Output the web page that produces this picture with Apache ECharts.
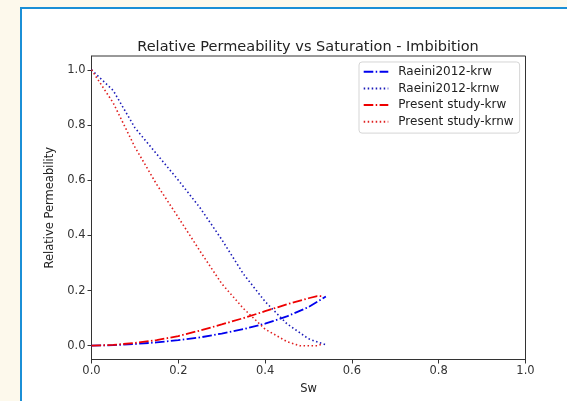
<!DOCTYPE html>
<html>
<head>
<meta charset="utf-8">
<script src="https://cdn.jsdelivr.net/npm/echarts@6/dist/echarts.min.js"></script>
<style>
html,body{margin:0;padding:0;background:#fdf9ec;}
#panel{position:absolute;left:20px;top:7px;width:547px;height:394px;background:#fff;border-left:2px solid #1b8fd6;border-top:2px solid #1b8fd6;box-sizing:border-box;}
#chart{position:absolute;left:0;top:0;width:567px;height:401px;}
</style>
</head>
<body>
<div id="panel"></div>
<div id="chart"></div>
<script>
// Data: [Sw, kr]
const raeiniKrw = [[0,0],[0.05,0.002],[0.1,0.006],[0.15,0.012],[0.2,0.02],[0.25,0.03],[0.3,0.044],[0.35,0.06],[0.4,0.08],[0.45,0.106],[0.5,0.14],[0.54,0.178]];
const raeiniKrnw = [[0,1.0],[0.05,0.925],[0.1,0.79],[0.15,0.695],[0.2,0.6],[0.25,0.5],[0.3,0.385],[0.35,0.26],[0.4,0.16],[0.45,0.08],[0.5,0.025],[0.54,0.003]];
const presentKrw = [[0,0],[0.05,0.003],[0.1,0.01],[0.15,0.02],[0.2,0.035],[0.25,0.055],[0.3,0.077],[0.35,0.1],[0.4,0.125],[0.45,0.15],[0.5,0.172],[0.52,0.18],[0.535,0.179]];
const presentKrnw = [[0,1.0],[0.05,0.88],[0.1,0.72],[0.15,0.585],[0.2,0.465],[0.25,0.343],[0.3,0.225],[0.35,0.135],[0.4,0.06],[0.45,0.015],[0.48,0.0],[0.52,0.0],[0.53,0.005]];
const seriesNames = ['Raeini2012-krw','Raeini2012-krnw','Present study-krw','Present study-krnw'];
const xTicks = [0,0.2,0.4,0.6,0.8,1.0];
const yTicks = [0,0.2,0.4,0.6,0.8,1.0];

const dashDot = [9.6,2.4,1.5,2.4];
const dotted = [1.5,2.5];
const font = 'DejaVu Sans';
function mk(name, data, color, pattern, w){
  return {name:name, type:'line', data:data, showSymbol:false, symbol:'none', smooth:false,
    lineStyle:{color:color, width:w, type:pattern, cap:'butt'}, itemStyle:{color:color}, animation:false};
}
const chart = echarts.init(document.getElementById('chart'), null, {renderer:'canvas'});
chart.setOption({
  backgroundColor:'transparent',
  animation:false,
  title:{text:'Relative Permeability vs Saturation - Imbibition', left:303, top:35, textAlign:'center',
    textStyle:{fontFamily:font, fontSize:14.5, fontWeight:'normal', color:'#222'}},
  grid:{left:91.5, right:41.5, top:56, bottom:41.5, show:true, borderColor:'#333', borderWidth:1},
  legend:{orient:'vertical', left:359, top:62, padding:[2.7,6,4.3,3.7], itemGap:2.7, itemWidth:24.6, itemHeight:14,
    backgroundColor:'#fff', borderColor:'#d5d5d5', borderWidth:1, borderRadius:3,
    itemStyle:{opacity:0, color:'transparent', borderWidth:0},
    textStyle:{fontFamily:font, fontSize:12, lineHeight:14, color:'#222', padding:[0,0,0,5]},
    data:seriesNames},
  xAxis:{type:'value', min:0, max:1, interval:0.2, name:'Sw', nameLocation:'middle', nameGap:24,
    nameTextStyle:{fontFamily:font, fontSize:11.5, color:'#222'},
    axisLine:{show:true, onZero:false, lineStyle:{color:'#333', width:1}},
    axisTick:{show:true, length:4, lineStyle:{color:'#333'}},
    axisLabel:{fontFamily:font, fontSize:11.5, color:'#333', margin:6, formatter:v=>v.toFixed(1), customValues:xTicks},
    splitLine:{show:false}},
  yAxis:{type:'value', min:-0.05, max:1.05, name:'Relative Permeability', nameLocation:'middle', nameGap:33,
    nameTextStyle:{fontFamily:font, fontSize:11.5, color:'#222'},
    axisLine:{show:true, onZero:false, lineStyle:{color:'#333', width:1}},
    axisTick:{show:true, length:4, lineStyle:{color:'#333'}, customValues:yTicks},
    axisLabel:{fontFamily:font, fontSize:11.5, color:'#333', margin:6, formatter:v=>v.toFixed(1), customValues:yTicks},
    splitLine:{show:false}},
  series:[
    mk(seriesNames[0], raeiniKrw, '#0000ee', dashDot, 1.8),
    mk(seriesNames[1], raeiniKrnw, '#1a1ab8', dotted, 1.6),
    mk(seriesNames[2], presentKrw, '#ee0000', dashDot, 1.8),
    mk(seriesNames[3], presentKrnw, '#e02020', dotted, 1.6)
  ]
});
</script>
</body>
</html>
